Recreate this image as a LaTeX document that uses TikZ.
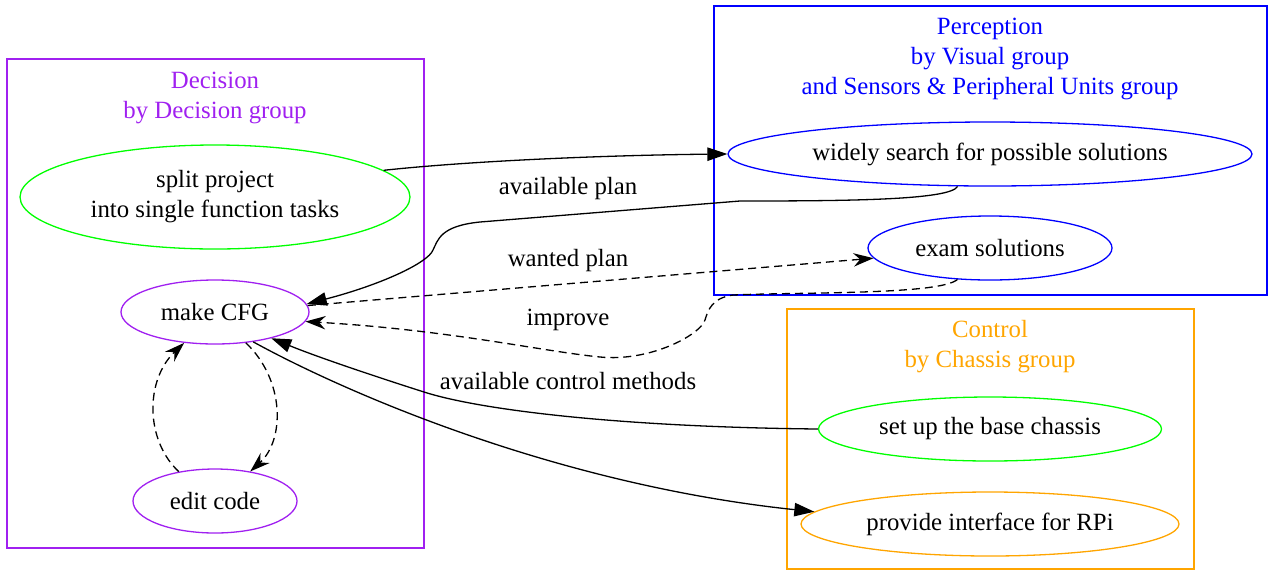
\documentclass[tikz,border=0pt]{standalone}
\usepackage{fontspec}
\setmainfont{Liberation Serif}
\usetikzlibrary{shapes.geometric,arrows.meta}
\definecolor{dpurple}{RGB}{160,32,240}
\definecolor{dgreen}{RGB}{0,255,0}
\definecolor{dblue}{RGB}{0,0,255}
\definecolor{dorange}{RGB}{255,165,0}

\begin{document}
\begin{tikzpicture}[x=0.5pt,y=-0.5pt,line width=0.65pt,
    every node/.style={font=\fontsize{12.4}{15}\selectfont},
    task/.style={draw,ellipse,inner sep=0pt,minimum height=32pt,align=center},
    solidedge/.style={-{Triangle[length=10pt,width=6.7pt]}},
    dashedge/.style={dash pattern=on 4pt off 2.5pt,-{Stealth[length=10pt,width=6.7pt,inset=3.3pt]}}]

\useasboundingbox (0,0) rectangle (1273,574);

% Decision
\draw[dpurple] (7,59) rectangle (424,548);
\node[text=dpurple,align=center] (dectitle) at (215,98) {Decision\\by Decision group};
\node[task,draw=dgreen,minimum width=195pt,minimum height=52pt] (split) at (215,197) {split project\\into single function tasks};
\node[task,draw=dpurple,minimum width=94pt] (cfg) at (215,312) {make CFG};
\node[task,draw=dpurple,minimum width=82pt] (edit) at (215,501) {edit code};

% Perception
\draw[dblue] (714,6) rectangle (1267,295);
\node[text=dblue,align=center] (pertitle) at (990,59) {Perception\\by Visual group\\and Sensors \& Peripheral Units group};
\node[task,draw=dblue,minimum width=262pt] (search) at (990,154) {widely search for possible solutions};
\node[task,draw=dblue,minimum width=122pt] (exam) at (990,248) {exam solutions};

% Control
\draw[dorange] (787,309) rectangle (1194,569);
\node[text=dorange,align=center] (contitle) at (990,347) {Control\\by Chassis group};
\node[task,draw=dgreen,minimum width=171.5pt] (chassis) at (990,429) {set up the base chassis};
\node[task,draw=dorange,minimum width=189pt] (iface) at (990,524) {provide interface for RPi};

% edges
\draw[solidedge] (split.9) .. controls (480,160) and (620,155) .. (search.west);
\draw[solidedge] (search.225) .. controls (950,200) and (850,201) .. (740,201)
    -- (480,222) .. controls (440,226) and (438,240) .. (433,250)
    .. controls (428,263) and (380,285) .. (cfg.5);
\node (lplan) at (568,189) {available plan};

\draw[dashedge] (cfg.4) -- (exam.185);
\node (lwanted) at (568,261) {wanted plan};

\draw[dashedge] (exam.224) .. controls (940,295) and (800,292) .. (733,295)
    .. controls (712,298) and (708,310) .. (705,320)
    .. controls (700,335) and (650,362) .. (600,357)
    .. controls (540,351) and (450,330) .. (cfg.-6);
\node (limprove) at (568,320) {improve};

\draw[solidedge] (chassis.west) .. controls (620,427) and (480,410) .. (424,392)
    .. controls (380,378) and (320,358) .. (cfg.-25);
\node (lcontrol) at (568,381) {available control methods};

\draw[solidedge] (cfg.-38) .. controls (350,395) and (560,485) .. (iface.176);

% loop between make CFG and edit code
\draw[dashedge] (edit.141) .. controls (145,440) and (145,380) .. (cfg.225);
\draw[dashedge] (cfg.-45) .. controls (285,380) and (285,440) .. (edit.40);

\end{tikzpicture}
\end{document}
